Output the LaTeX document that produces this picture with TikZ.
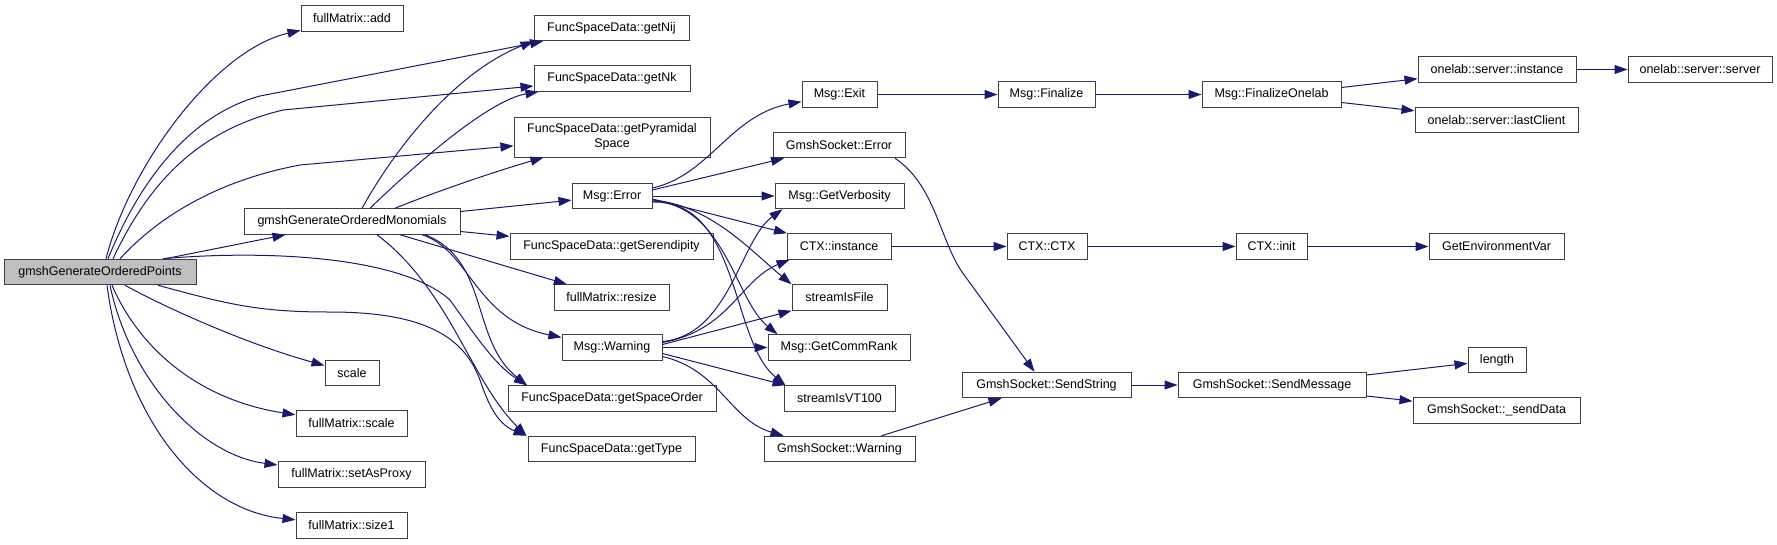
\documentclass[tikz,border=0pt]{standalone}
\usepackage{fontspec}
\setmainfont{Liberation Sans}
\usetikzlibrary{arrows.meta}

\definecolor{edgeblue}{HTML}{191970}
\definecolor{boxgrey}{HTML}{404040}
\definecolor{mainfill}{HTML}{BFBFBF}

\begin{document}
\begin{tikzpicture}[
  x=1pt, y=-1pt,
  >={Triangle[length=13pt,width=9pt]},
  call/.style={->, draw=edgeblue, line width=1pt},
  fn/.style={draw=boxgrey, line width=1pt, fill=white, minimum height=25.5pt,
             inner sep=0pt, font=\fontsize{12.5}{15}\selectfont, align=center},
  mainfn/.style={fn, fill=mainfill}
]
  \path[use as bounding box, fill=white] (0,0) rectangle (1777,544);

  % Caller and first level
  \node[mainfn, minimum width=192pt] (pts) at (100,272) {gmshGenerateOrderedPoints};
  \node[fn, minimum width=216pt] (mono) at (352,221.5) {gmshGenerateOrderedMonomials};
  \node[fn, minimum width=102pt] (add) at (352,18.5) {fullMatrix::add};
  \node[fn, minimum width=54pt] (scl) at (352,373) {scale};
  \node[fn, minimum width=111pt] (fscl) at (351.5,423.5) {fullMatrix::scale};
  \node[fn, minimum width=147pt] (proxy) at (351.5,474.5) {fullMatrix::setAsProxy};
  \node[fn, minimum width=111pt] (size) at (351.5,525.5) {fullMatrix::size1};

  % Second column
  \node[fn, minimum width=155pt] (nij) at (611.5,28) {FuncSpaceData::getNij};
  \node[fn, minimum width=156pt] (nk) at (612,78.5) {FuncSpaceData::getNk};
  \node[fn, minimum width=196pt, minimum height=40pt] (pyr) at (612,137) {FuncSpaceData::getPyramidal\\Space};
  \node[fn, minimum width=80pt] (err) at (612,196) {Msg::Error};
  \node[fn, minimum width=203pt] (ser) at (611.5,246.5) {FuncSpaceData::getSerendipity};
  \node[fn, minimum width=115pt] (resize) at (611.5,297.5) {fullMatrix::resize};
  \node[fn, minimum width=100pt] (warn) at (612,347.5) {Msg::Warning};
  \node[fn, minimum width=208pt] (sord) at (612,398.5) {FuncSpaceData::getSpaceOrder};
  \node[fn, minimum width=167pt] (type) at (611.5,449) {FuncSpaceData::getType};

  % Third column
  \node[fn, minimum width=75pt] (exit) at (839.5,94.5) {Msg::Exit};
  \node[fn, minimum width=132pt] (serr) at (839,145) {GmshSocket::Error};
  \node[fn, minimum width=129pt] (verb) at (839.5,196) {Msg::GetVerbosity};
  \node[fn, minimum width=104pt] (ctxi) at (839,246.5) {CTX::instance};
  \node[fn, minimum width=95pt] (sfile) at (839.5,297.5) {streamIsFile};
  \node[fn, minimum width=142pt] (rank) at (839,347.5) {Msg::GetCommRank};
  \node[fn, minimum width=111pt] (vt) at (839.5,398.5) {streamIsVT100};
  \node[fn, minimum width=151pt] (swarn) at (839.5,449) {GmshSocket::Warning};

  % Right part
  \node[fn, minimum width=97pt] (fin) at (1046.5,94.5) {Msg::Finalize};
  \node[fn, minimum width=80pt] (ctx) at (1047,246.5) {CTX::CTX};
  \node[fn, minimum width=169pt] (sstr) at (1046.5,385) {GmshSocket::SendString};
  \node[fn, minimum width=139pt] (fonl) at (1271.5,94.5) {Msg::FinalizeOnelab};
  \node[fn, minimum width=71pt] (init) at (1271.5,246.5) {CTX::init};
  \node[fn, minimum width=188pt] (smsg) at (1272,385) {GmshSocket::SendMessage};
  \node[fn, minimum width=158pt] (inst) at (1497,69.5) {onelab::server::instance};
  \node[fn, minimum width=163pt] (last) at (1496.5,120) {onelab::server::lastClient};
  \node[fn, minimum width=135pt] (env) at (1496.5,246.5) {GetEnvironmentVar};
  \node[fn, minimum width=58pt] (len) at (1497,360) {length};
  \node[fn, minimum width=167pt] (sdata) at (1496.5,410.5) {GmshSocket::\_sendData};
  \node[fn, minimum width=144pt] (srv) at (1700,69.5) {onelab::server::server};

  % --- Edges from gmshGenerateOrderedPoints ---
  \draw[call] ([xshift=6pt]pts.north) .. controls (130,165) and (215,50) .. (add);
  \draw[call] ([xshift=8pt]pts.north) .. controls (140,180) and (190,115) .. (260,96) -- (nij);
  \draw[call] ([xshift=13pt]pts.north) .. controls (150,180) and (200,130) .. (283,110) -- (nk);
  \draw[call] ([xshift=20pt]pts.north) .. controls (160,215) and (220,180) .. (300,165) -- (pyr);
  \draw[call] ([xshift=65pt]pts.north) -- (mono);
  \draw[call] ([xshift=63pt]pts.north) .. controls (260,250) and (400,255) .. (450,300)
    .. controls (475,335) and (495,365) .. ([xshift=-85pt]sord.north);
  \draw[call] ([xshift=58pt]pts.south) .. controls (230,305) and (260,312) .. (330,312)
    .. controls (430,312) and (465,340) .. (480,380)
    .. controls (490,410) and (500,425) .. ([xshift=-85pt]type.north);
  \draw[call] ([xshift=25pt]pts.south) .. controls (170,310) and (250,345) .. (scl);
  \draw[call] ([xshift=12pt]pts.south) .. controls (140,350) and (200,400) .. (fscl);
  \draw[call] ([xshift=10pt]pts.south) .. controls (130,380) and (200,455) .. (proxy);
  \draw[call] ([xshift=7pt]pts.south) .. controls (125,420) and (200,510) .. (size);

  % --- Edges from gmshGenerateOrderedMonomials ---
  \draw[call] ([xshift=10pt]mono.north) .. controls (400,140) and (460,70) .. (nij.south west);
  \draw[call] ([xshift=18pt]mono.north) .. controls (420,160) and (490,100) .. ([xshift=5pt]nk.south west);
  \draw[call] ([xshift=43pt]mono.north) .. controls (440,190) and (500,170) .. ([xshift=30pt]pyr.south west);
  \draw[call] ([yshift=10pt]mono.east) -- (err);
  \draw[call] ([yshift=-10pt]mono.east) -- (ser);
  \draw[call] ([xshift=48pt]mono.south) -- (resize);
  \draw[call] ([xshift=70pt]mono.south) .. controls (470,250) and (475,320) .. (warn);
  \draw[call] ([xshift=73pt]mono.south) .. controls (490,260) and (470,340) .. ([xshift=-85pt]sord.north);
  \draw[call] ([xshift=25pt]mono.south) .. controls (450,290) and (470,380) .. ([xshift=-85pt]type.north);

  % --- Msg::Error ---
  \draw[call] ([yshift=8pt]err.east) .. controls (710,175) and (730,115) .. (exit);
  \draw[call] ([yshift=6pt]err.east) -- (serr);
  \draw[call] (err) -- (verb);
  \draw[call] ([yshift=-3pt]err.east) -- (ctxi);
  \draw[call] ([yshift=-4pt]err.east) .. controls (710,205) and (750,250) .. (sfile.north west);
  \draw[call] ([yshift=-5pt]err.east) .. controls (725,205) and (735,300) .. ([xshift=10pt]rank.north west);
  \draw[call] ([yshift=-6pt]err.east) .. controls (740,200) and (730,340) .. ([xshift=2pt]vt.north west);

  % --- Msg::Warning ---
  \draw[call] ([yshift=6pt]warn.east) .. controls (730,335) and (740,240) .. ([xshift=8pt]verb.south west);
  \draw[call] ([yshift=5pt]warn.east) .. controls (730,330) and (740,280) .. ([xshift=3pt]ctxi.south west);
  \draw[call] ([yshift=3pt]warn.east) -- (sfile.south west);
  \draw[call] (warn) -- (rank);
  \draw[call] ([yshift=-6pt]warn.east) -- ([xshift=2pt]vt.north west);
  \draw[call] ([yshift=-9pt]warn.east) .. controls (720,370) and (730,420) .. ([xshift=20pt]swarn.north west);

  % --- Sockets, context and exit chain ---
  \draw[call] ([xshift=56pt]serr.south) .. controls (935,185) and (940,240) .. (962,272) -- ([xshift=-12pt]sstr.north);
  \draw[call] ([xshift=42pt]swarn.north) -- ([xshift=-45pt]sstr.south);
  \draw[call] (sstr) -- (smsg);
  \draw[call] ([yshift=10pt]smsg.east) -- (len);
  \draw[call] ([yshift=-11pt]smsg.east) -- (sdata);
  \draw[call] (exit) -- (fin);
  \draw[call] (fin) -- (fonl);
  \draw[call] ([yshift=7pt]fonl.east) -- (inst);
  \draw[call] ([yshift=-8pt]fonl.east) -- (last);
  \draw[call] (inst) -- (srv);
  \draw[call] (ctxi) -- (ctx);
  \draw[call] (ctx) -- (init);
  \draw[call] (init) -- (env);
\end{tikzpicture}
\end{document}
